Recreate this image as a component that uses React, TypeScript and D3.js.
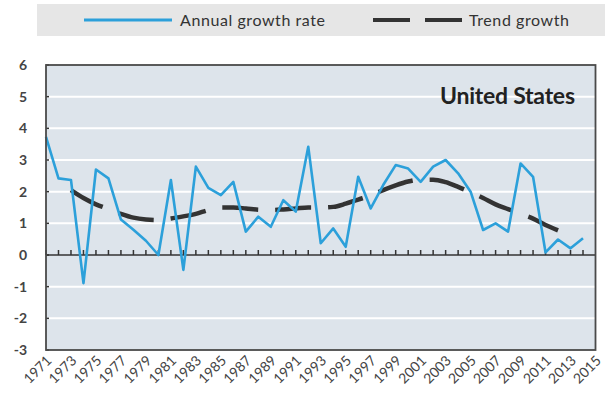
import React from 'react';
import * as d3 from 'd3';

// Annual growth rate, United States, 1971-2014
const years = [
    1971, 1972, 1973, 1974, 1975, 1976, 1977, 1978, 1979, 1980,
    1981, 1982, 1983, 1984, 1985, 1986, 1987, 1988, 1989, 1990,
    1991, 1992, 1993, 1994, 1995, 1996, 1997, 1998, 1999, 2000,
    2001, 2002, 2003, 2004, 2005, 2006, 2007, 2008, 2009, 2010,
    2011, 2012, 2013, 2014,
];
const annualGrowth = [
    3.73, 2.42, 2.37, -0.89, 2.7, 2.42, 1.12, 0.8, 0.45, 0.0,
    2.37, -0.47, 2.79, 2.12, 1.89, 2.31, 0.74, 1.21, 0.89, 1.73,
    1.37, 3.42, 0.37, 0.84, 0.26, 2.47, 1.47, 2.21, 2.84, 2.73,
    2.31, 2.79, 3.0, 2.58, 2.0, 0.79, 1.0, 0.74, 2.89, 2.47,
    0.08, 0.49, 0.21, 0.53,
];

// Trend growth, 1973-2012
const trendYears = [
    1973, 1974, 1975, 1976, 1977, 1978, 1979, 1980, 1981, 1982,
    1983, 1984, 1985, 1986, 1987, 1988, 1989, 1990, 1991, 1992,
    1993, 1994, 1995, 1996, 1997, 1998, 1999, 2000, 2001, 2002,
    2003, 2004, 2005, 2006, 2007, 2008, 2009, 2010, 2011, 2012,
];
const trendGrowth = [
    2.05, 1.8, 1.6, 1.45, 1.3, 1.18, 1.12, 1.1, 1.15, 1.22,
    1.3, 1.42, 1.5, 1.5, 1.47, 1.43, 1.42, 1.44, 1.47, 1.5,
    1.5, 1.52, 1.62, 1.75, 1.88, 2.05, 2.2, 2.32, 2.38, 2.38,
    2.3, 2.15, 1.98, 1.8, 1.6, 1.45, 1.3, 1.15, 0.95, 0.78,
];

const yTicks = [-3, -2, -1, 0, 1, 2, 3, 4, 5, 6];
const xLabels = [
    1971, 1973, 1975, 1977, 1979, 1981, 1983, 1985, 1987, 1989, 1991, 1993,
    1995, 1997, 1999, 2001, 2003, 2005, 2007, 2009, 2011, 2013, 2015,
];

const W = 611;
const H = 400;
const plot = { left: 46, right: 595.5, top: 65, bottom: 350 };

const BLUE = '#2ca0da';
const DARK = '#333333';
const FONT = 'Lato, "Liberation Sans", sans-serif';

export default function App() {
    const x = d3.scaleLinear().domain([1971, 2015]).range([plot.left, plot.right]);
    const y = d3.scaleLinear().domain([-3, 6]).range([plot.bottom, plot.top]);

    const line = d3
        .line<[number, number]>()
        .x((d) => x(d[0]))
        .y((d) => y(d[1]));

    const growthPath = line(years.map((yr, i) => [yr, annualGrowth[i]]))!;
    const trendPath = line
        .curve(d3.curveMonotoneX)(trendYears.map((yr, i) => [yr, trendGrowth[i]]))!;

    return (
        <div style={{ position: 'absolute', left: 0, top: 0 }}>
            <svg width={W} height={H} viewBox={`0 0 ${W} ${H}`} style={{ display: 'block', background: '#fff' }}>
                {/* Legend */}
                <rect x={37} y={4} width={568} height={32} fill="#e6e6e6" />
                <line x1={84} x2={172} y1={20} y2={20} stroke={BLUE} strokeWidth={3} />
                <text x={180} y={26} fontFamily={FONT} fontSize={16} fill={DARK} textLength={145}>
                    Annual growth rate
                </text>
                <line x1={373} x2={462} y1={20} y2={20} stroke={DARK} strokeWidth={4} strokeDasharray="37 15" />
                <text x={469} y={26} fontFamily={FONT} fontSize={16} fill={DARK} textLength={100}>
                    Trend growth
                </text>

                {/* Plot background */}
                <rect
                    x={plot.left}
                    y={plot.top}
                    width={plot.right - plot.left}
                    height={plot.bottom - plot.top}
                    fill="#dde4eb"
                />

                {/* Gridlines */}
                {yTicks
                    .filter((t) => t !== 0 && t !== 6 && t !== -3)
                    .map((t) => (
                        <line
                            key={`g${t}`}
                            x1={plot.left}
                            x2={plot.right}
                            y1={y(t)}
                            y2={y(t)}
                            stroke="#ffffff"
                            strokeWidth={2}
                        />
                    ))}

                {/* Y axis ticks and labels */}
                {yTicks.map((t) => (
                    <g key={`y${t}`}>
                        <line x1={plot.left} x2={plot.left + 3} y1={y(t)} y2={y(t)} stroke={DARK} strokeWidth={1.5} />
                        <text
                            x={27}
                            y={y(t)}
                            dy="0.35em"
                            textAnchor="end"
                            fontFamily={FONT}
                            fontSize={14}
                            fontWeight={700}
                            fill="#444"
                        >
                            {t < 0 ? `-${Math.abs(t)}` : t}
                        </text>
                    </g>
                ))}

                {/* Zero line with year ticks */}
                <line x1={plot.left} x2={plot.right} y1={y(0)} y2={y(0)} stroke={DARK} strokeWidth={1.5} />
                {years.map((yr) => (
                    <line key={`t${yr}`} x1={x(yr)} x2={x(yr)} y1={y(0)} y2={y(0) - 5} stroke={DARK} strokeWidth={1.5} />
                ))}

                {/* Series */}
                <path d={trendPath} fill="none" stroke={DARK} strokeWidth={4.5} strokeDasharray="36 17" />
                <path d={growthPath} fill="none" stroke={BLUE} strokeWidth={2.6} strokeLinejoin="round" />

                {/* Frame */}
                <rect
                    x={plot.left}
                    y={plot.top}
                    width={plot.right - plot.left}
                    height={plot.bottom - plot.top}
                    fill="none"
                    stroke="#4a4a4a"
                    strokeWidth={1.8}
                />

                <text
                    x={440}
                    y={104}
                    fontFamily={FONT}
                    fontSize={23}
                    fontWeight={700}
                    fill="#222"
                    textLength={135}
                >
                    United States
                </text>

                {/* X labels */}
                {xLabels.map((yr) => (
                    <text
                        key={`x${yr}`}
                        transform={`translate(${x(yr) + 3},${plot.bottom + 8}) rotate(-45)`}
                        textAnchor="end"
                        dy="0.35em"
                        fontFamily={FONT}
                        fontSize={14}
                        fill="#444"
                    >
                        {yr}
                    </text>
                ))}
            </svg>
        </div>
    );
}
